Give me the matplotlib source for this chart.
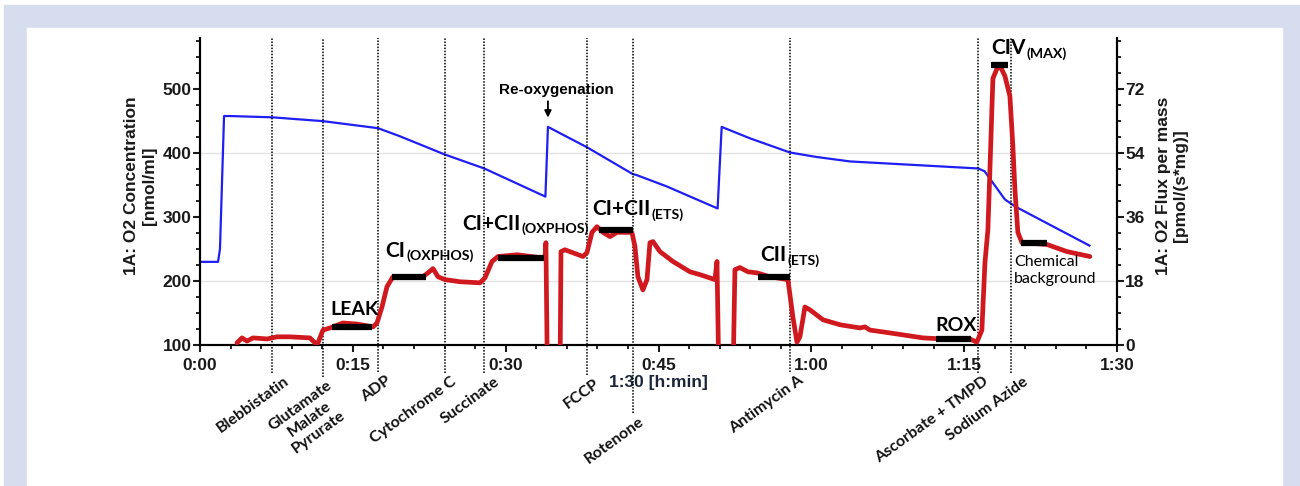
import matplotlib
matplotlib.use("Agg")
import matplotlib.pyplot as plt
import matplotlib.transforms as mtransforms
from matplotlib.patches import Rectangle
from matplotlib.ticker import MultipleLocator, FuncFormatter

# O2 concentration [nmol/ml], left axis; time in minutes
conc_t = [0.0, 1.77, 1.96, 2.36, 2.9, 7.07, 12.07, 17.47, 19.6, 24.0, 27.9, 33.9,
          34.15, 38.0, 42.5, 42.8, 45.8, 50.8, 51.2, 54.0, 57.9, 60.5, 63.8, 76.4,
          77.0, 79.0, 80.0, 87.3]
conc_v = [230, 230, 250, 458, 458, 456, 450, 439, 426.5, 398, 376, 332,
          441, 409, 367, 366, 348, 313.5, 441, 423, 401, 394, 387, 376,
          371.6, 327.6, 316.6, 255.4]

# O2 flux per mass [pmol/(s*mg)], right axis
flux_t = [3.63, 4.12, 4.61, 5.20, 6.58, 7.56, 8.83, 10.79, 11.29, 11.58, 12.07, 12.76,
          14.03, 15.41, 16.98, 17.37, 17.86, 18.35, 18.94, 20.31, 21.88, 22.37, 22.87,
          23.36, 24.04, 25.52, 27.48, 27.97, 28.66, 29.24, 31.11, 33.37, 33.86, 33.95,
          34.10, 35.33, 35.43, 35.82, 37.59, 37.98, 38.47, 38.96, 39.55, 40.24, 40.92,
          42.39, 42.69, 42.98, 43.47, 43.87, 44.16, 44.46, 45.14, 46.42, 48.09, 49.07,
          50.54, 50.74, 50.93, 52.31, 52.50, 52.99, 53.78, 54.66, 55.94, 57.70, 58.19,
          58.59, 58.88, 59.37, 59.86, 61.14, 62.81, 64.77, 65.26, 65.75, 67.71, 70.95,
          72.91, 75.56, 76.25, 76.74, 77.04, 77.33, 77.53, 77.82, 78.21, 78.51, 79.00,
          79.49, 79.78, 79.98, 80.27, 80.67, 83.12, 85.08, 87.34]
flux_v = [0.6, 2.0, 1.1, 2.0, 1.7, 2.3, 2.3, 2.0, 0.6, 0.6, 4.2, 4.8,
          6.2, 5.9, 5.1, 6.2, 10.7, 16.4, 19.2, 19.2, 19.2, 20.3, 21.5,
          19.2, 18.4, 17.8, 17.5, 18.9, 23.5, 24.9, 25.4, 24.6, 24.6, 28.8,
          -10, -10, 26.3, 26.8, 24.9, 26.0, 31.7, 33.3, 31.7, 30.5, 31.7,
          31.7, 27.7, 19.2, 15.5, 18.4, 28.8, 29.1, 26.3, 23.5, 20.6, 19.8,
          18.4, 23.5, -10, -10, 21.2, 21.8, 20.6, 20.3, 19.2, 18.4, 7.9,
          0.8, 2.3, 10.7, 9.9, 7.1, 5.7, 4.8, 5.1, 4.2, 3.4, 2.0,
          1.7, 1.7, 0.8, 4.2, 23.2, 32.5, 49.5, 75.0, 77.7, 78.6, 75.7,
          70.0, 56.0, 43.8, 31.7, 28.8, 28.3, 26.3, 24.9]

# titrations
event_t = [7.07, 12.07, 17.47, 24.0, 27.9, 38.0, 42.5, 57.9, 76.4, 79.6]
event_names = ["Blebbistatin", "Glutamate\nMalate\nPyrurate", "ADP", "Cytochrome C",
               "Succinate", "FCCP", "Rotenone", "Antimycin A", "Ascorbate + TMPD",
               "Sodium Azide"]

# marked respiratory states
state_names = ["LEAK", "CI", "CI+CII", "CI+CII", "CII", "ROX", "CIV", ""]
state_subs = ["", "(OXPHOS)", "(OXPHOS)", "(ETS)", "(ETS)", "", "(MAX)", ""]
state_start = [12.95, 18.84, 29.24, 39.16, 54.76, 72.23, 77.62, 80.57]
state_end = [16.88, 22.18, 33.76, 42.49, 57.90, 75.66, 79.29, 83.12]
state_flux = [5.1, 19.2, 24.6, 32.5, 19.2, 1.7, 78.8, 28.8]

W, H = 1300, 486
fig = plt.figure(figsize=(13, 4.86), dpi=100)
fig.patches.append(Rectangle((4 / W, -0.1), 1, 481 / H + 0.1, transform=fig.transFigure,
                             color="#d5ddee", zorder=-10))
fig.patches.append(Rectangle((27 / W, -0.1), 1255 / W, 458 / H + 0.1,
                             transform=fig.transFigure, color="white", zorder=-9))

ax = fig.add_axes([200 / W, 141 / H, 917 / W, 307 / H])
ax.patch.set_alpha(0)
ax2 = ax.twinx()

tick_font = dict(family="Liberation Sans", weight="bold", size=12.5)
plt.rcParams["font.family"] = ["Lato", "DejaVu Sans"]

# concentration
ax.plot(conc_t, conc_v, color="#1f1ff5", lw=1.6, zorder=3)
for g in (200, 400):
    ax.axhline(g, color="#e3e3e3", lw=1, zorder=1)
ax.set_xlim(0, 90)
ax.set_ylim(100, 580)
ax2.set_ylim(0, 86.4)

# flux
ax2.plot(flux_t, flux_v, color="#d0191e", lw=3.4, solid_joinstyle="round",
         solid_capstyle="round", zorder=3)
ax2.hlines(state_flux, state_start, state_end, color="black", lw=4.5, zorder=4)

# event lines and labels
blend = mtransforms.blended_transform_factory(ax2.transData, ax2.transAxes)
line_bottom = [-0.091, -0.104, -0.088, -0.091, -0.091, -0.098, -0.221, -0.088, -0.091, -0.091]
label_dx = [8, 2, 5, 4, 7, 5, 4, 6, 3, 8]
for t, name, yb, dx in zip(event_t, event_names, line_bottom, label_dx):
    ax2.plot([t, t], [yb, 1.0], transform=blend, clip_on=False, color="black",
             lw=1.1, ls=(0, (1, 1)), zorder=2)
    ax2.annotate(name, xy=(t, yb), xycoords=blend, xytext=(dx, -1),
                 textcoords="offset points", rotation=36, rotation_mode="anchor",
                 ha="right", va="top", multialignment="center",
                 fontsize=11.5, fontweight="bold", color="#111111")

# state labels
state_lx = [12.76, 18.15, 25.71, 38.47, 54.96, 72.13, 77.62]
state_ly = [8.5, 24.9, 32.5, 36.7, 23.5, 4.0, 82.0]
state_size = [14, 15, 15, 15, 15, 14, 15]
for name, sub, x, y, fs in zip(state_names, state_subs, state_lx, state_ly, state_size):
    t = ax2.text(x, y, name, fontsize=fs, fontweight="bold", ha="left", va="baseline",
                 zorder=5)
    if sub:
        ax2.annotate(sub, xy=(1, 0.22), xycoords=t, xytext=(1, 0),
                     textcoords="offset points", ha="left", va="center",
                     fontsize=fs * 0.68, fontweight="bold")

ax2.text(79.88, 25.4, "Chemical\nbackground", fontsize=11.5, ha="left", va="top",
         linespacing=1.3, zorder=5)
ax2.text(34.94, 70.7, "Re-oxygenation", ha="center", va="baseline",
         family="Liberation Sans", fontsize=11, fontweight="bold")
ax2.annotate("", xy=(34.15, 64.0), xytext=(34.15, 68.6),
             arrowprops=dict(arrowstyle="-|>", color="black", lw=1.3,
                             mutation_scale=10, shrinkA=0, shrinkB=0))

# axes styling
for a in (ax, ax2):
    for s in a.spines.values():
        s.set_linewidth(1.5)
    a.spines["top"].set_visible(False)
ax.xaxis.set_major_locator(MultipleLocator(15))
ax.xaxis.set_minor_locator(MultipleLocator(3))
ax.xaxis.set_major_formatter(FuncFormatter(lambda v, p: f"{int(v) // 60}:{int(v) % 60:02d}"))
ax.yaxis.set_major_locator(MultipleLocator(100))
ax.yaxis.set_minor_locator(MultipleLocator(25))
ax2.yaxis.set_major_locator(MultipleLocator(18))
ax2.yaxis.set_minor_locator(MultipleLocator(4.5))
ax2.yaxis.set_major_formatter(FuncFormatter(lambda v, p: f"{v:.0f}"))
for a in (ax, ax2):
    a.tick_params(which="major", direction="out", length=5, width=1.5, pad=1, colors="#1a1a1a")
    a.tick_params(which="minor", direction="out", length=3, width=1.2)
ax.tick_params(axis="x", which="major", pad=4)
for lbl in ax.get_xticklabels() + ax.get_yticklabels() + ax2.get_yticklabels():
    lbl.set_fontproperties(matplotlib.font_manager.FontProperties(**tick_font))

ax.text(-0.065, 0.52, "1A: O2 Concentration\n[nmol/ml]", transform=ax.transAxes,
        rotation=90, ha="center", va="center", multialignment="center",
        family="Liberation Sans", fontweight="bold", fontsize=12.5, color="#1a1a1a")
ax.text(1.060, 0.52, "1A: O2 Flux per mass\n[pmol/(s*mg)]", transform=ax.transAxes,
        rotation=90, ha="center", va="center", multialignment="center",
        family="Liberation Sans", fontweight="bold", fontsize=12.5, color="#1a1a1a")
ax.text(0.4995, -0.098, "1:30 [h:min]", transform=ax.transAxes, ha="center", va="top",
        family="Liberation Sans", fontweight="bold", fontsize=12.5, color="#1c2438")

fig.savefig("out.png", dpi=100)
